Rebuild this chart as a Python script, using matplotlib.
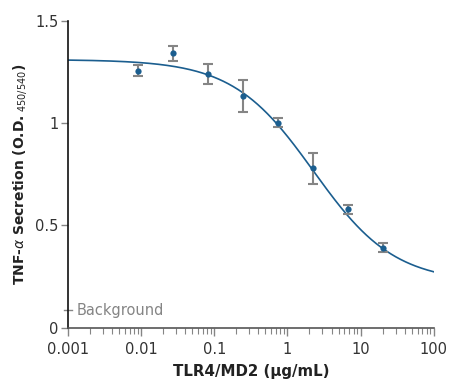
import numpy as np
import matplotlib
matplotlib.use("Agg")
import matplotlib.pyplot as plt

# dados
conc = [0.0091, 0.027, 0.082, 0.25, 0.74, 2.2, 6.7, 20.0]
media = [1.256, 1.340, 1.238, 1.130, 0.998, 0.778, 0.578, 0.390]
erro_sup = [0.027, 0.036, 0.050, 0.078, 0.026, 0.074, 0.022, 0.024]
erro_inf = [0.028, 0.038, 0.048, 0.078, 0.018, 0.076, 0.023, 0.022]

# parâmetros do ajuste 4PL (curva)
topo, base, ec50, hill = 1.31, 0.22, 2.27, 0.785

yticks = [0, 0.5, 1, 1.5]
ytick_labels = ["0", "0.5", "1", "1.5"]
xticks = [0.001, 0.01, 0.1, 1, 10, 100]
xtick_labels = ["0.001", "0.01", "0.1", "1", "10", "100"]
nivel_background = 0.085

azul = "#1b5e8f"
cinza = "#858585"

fig = plt.figure(figsize=(4.5, 3.83), dpi=100)
ax = fig.add_axes([0.151, 0.1444, 0.813, 0.8016])

xs = np.logspace(-3, 2, 300)
ys = base + (topo - base) / (1 + (xs / ec50) ** hill)
ax.plot(xs, ys, color=azul, lw=1.2, zorder=2)

ax.errorbar(conc, media, yerr=[erro_inf, erro_sup], fmt="none", ecolor=cinza,
            elinewidth=1.5, capsize=3.8, capthick=1.5, zorder=3)
ax.plot(conc, media, "o", color=azul, ms=4.5, mec="none", zorder=4)

ax.set_xscale("log")
ax.set_xlim(0.001, 100)
ax.set_ylim(0, 1.5)

ax.set_xticks(xticks)
ax.set_xticklabels(xtick_labels)
ax.set_yticks(yticks)
ax.set_yticklabels(ytick_labels)
ax.xaxis.set_minor_locator(matplotlib.ticker.LogLocator(base=10, subs=np.arange(2, 10)))
ax.xaxis.set_minor_formatter(matplotlib.ticker.NullFormatter())

ax.tick_params(axis="x", which="major", direction="out", length=6, width=1, color=cinza,
               labelsize=10.5, labelcolor="#333333", pad=4)
ax.tick_params(axis="x", which="minor", direction="out", length=4, width=0.8, color=cinza)
ax.tick_params(axis="y", which="major", direction="out", length=5, width=1, color=cinza,
               labelsize=10.5, labelcolor="#333333", pad=2)

for s in ["top", "right"]:
    ax.spines[s].set_visible(False)
ax.spines["left"].set_color("#111111")
ax.spines["left"].set_linewidth(1.2)
ax.spines["bottom"].set_color("#555555")
ax.spines["bottom"].set_linewidth(1.2)

# marca do background
ax.plot([-0.012, 0.012], [nivel_background, nivel_background], color=cinza, lw=1,
        transform=ax.get_yaxis_transform(), clip_on=False)
ax.text(0.0013, nivel_background, "Background", color=cinza, fontsize=10.5, va="center", ha="left")

ax.set_xlabel("TLR4/MD2 (µg/mL)", fontsize=10.8, fontweight="bold", color="#222222", labelpad=5)
ax.set_ylabel(r"TNF-$\alpha$ Secretion (O.D.$_{\ 450/540}$)", fontsize=10, fontweight="bold",
              color="#222222", labelpad=4)

fig.savefig("out.png", dpi=100)
